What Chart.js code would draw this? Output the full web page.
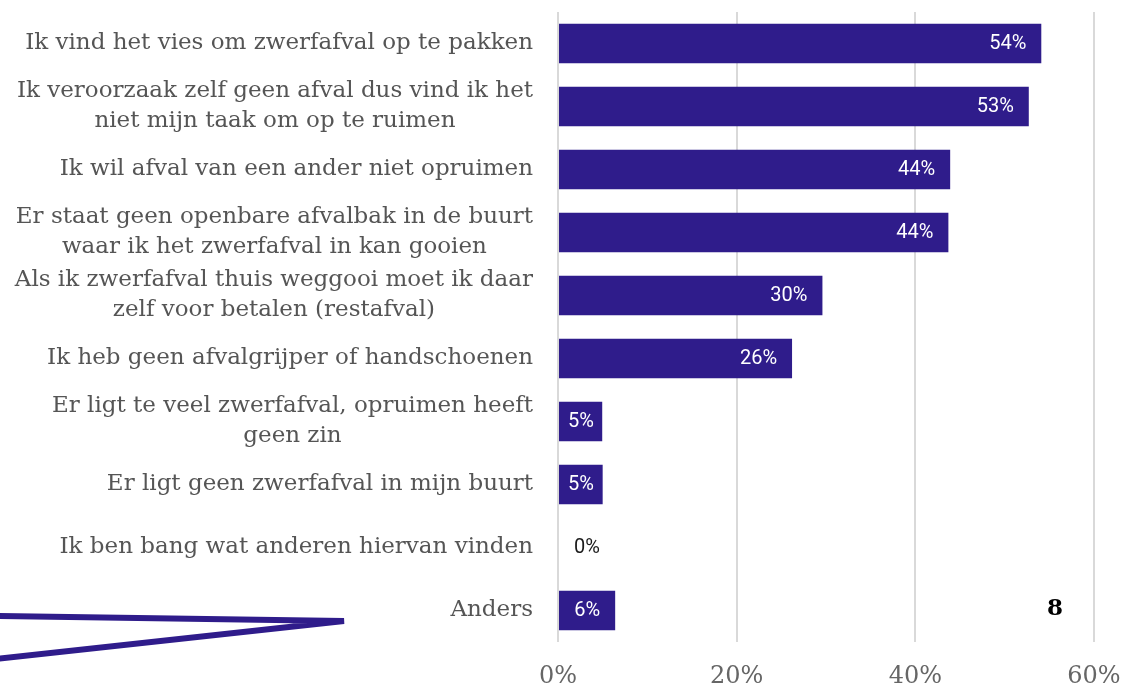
<!DOCTYPE html>
<html>
<head>
<meta charset="utf-8">
<script src="https://cdn.jsdelivr.net/npm/chart.js@4"></script>
<style>
  html, body { margin: 0; padding: 0; background: #fff; }
  #wrap { width: 1125px; height: 684px; position: relative; }
</style>
</head>
<body>
<div id="wrap"><canvas id="chart"></canvas></div>
<script>
const categories = [
  ['Ik vind het vies om zwerfafval op te pakken'],
  ['Ik veroorzaak zelf geen afval dus vind ik het', 'niet mijn taak om op te ruimen'],
  ['Ik wil afval van een ander niet opruimen'],
  ['Er staat geen openbare afvalbak in de buurt', 'waar ik het zwerfafval in kan gooien'],
  ['Als ik zwerfafval thuis weggooi moet ik daar', 'zelf voor betalen (restafval)'],
  ['Ik heb geen afvalgrijper of handschoenen'],
  ['Er ligt te veel zwerfafval, opruimen heeft', 'geen zin'],
  ['Er ligt geen zwerfafval in mijn buurt'],
  ['Ik ben bang wat anderen hiervan vinden'],
  ['Anders']
];
const values = [54.1, 52.7, 43.9, 43.7, 29.6, 26.2, 4.95, 5.0, 0, 6.4];
const xTicks = [0, 20, 40, 60];
const pageNumber = '8';

const barColor = '#2f1c8b';
const labelFont = '23px "DejaVu Serif"';

// y-as labels zelf tekenen: regels onderling gecentreerd, blok rechts uitgelijnd
const yLabelPlugin = {
  id: 'yLabels',
  afterDraw(chart) {
    const ctx = chart.ctx;
    const yScale = chart.scales.y;
    const right = chart.chartArea.left - 25;
    ctx.save();
    ctx.font = labelFont;
    ctx.fillStyle = '#555555';
    ctx.textAlign = 'center';
    ctx.textBaseline = 'middle';
    categories.forEach((lines, i) => {
      const y = yScale.getPixelForTick(i);
      const w = Math.max(...lines.map(l => ctx.measureText(l).width));
      const cx = right - w / 2;
      const lh = 30;
      const y0 = y - (lines.length - 1) * lh / 2;
      lines.forEach((l, j) => ctx.fillText(l, cx, y0 + j * lh));
    });
    ctx.restore();
  }
};

// percentages in de balken
const valueLabelPlugin = {
  id: 'valueLabels',
  afterDatasetsDraw(chart) {
    const ctx = chart.ctx;
    const meta = chart.getDatasetMeta(0);
    ctx.save();
    ctx.font = '20px Roboto';
    ctx.textBaseline = 'middle';
    meta.data.forEach((bar, i) => {
      const v = values[i];
      const txt = Math.round(v) + '%';
      const tw = ctx.measureText(txt).width;
      if (v > 0) {
        ctx.fillStyle = '#ffffff';
        ctx.textAlign = 'right';
        const x = Math.max(bar.x - 15, bar.base + 9 + tw);
        ctx.fillText(txt, x, bar.y);
      } else {
        ctx.fillStyle = '#1a1a1a';
        ctx.textAlign = 'left';
        ctx.fillText(txt, bar.base + 16, bar.y);
      }
    });
    ctx.restore();
  }
};

// paginanummer en decoratieve lijn linksonder
const decorPlugin = {
  id: 'decor',
  afterDraw(chart) {
    const ctx = chart.ctx;
    ctx.save();
    ctx.strokeStyle = barColor;
    ctx.lineWidth = 6;
    ctx.lineJoin = 'miter';
    ctx.beginPath();
    ctx.moveTo(-5, 616);
    ctx.lineTo(344, 621);
    ctx.lineTo(-5, 659);
    ctx.stroke();

    ctx.font = 'bold 23px "DejaVu Serif"';
    ctx.fillStyle = '#000';
    ctx.textAlign = 'center';
    ctx.textBaseline = 'middle';
    ctx.fillText(pageNumber, 1055, 609);
    ctx.restore();
  }
};

new Chart(document.getElementById('chart'), {
  type: 'bar',
  data: {
    labels: categories,
    datasets: [{
      data: values,
      backgroundColor: barColor,
      barPercentage: 0.624,
      categoryPercentage: 1.0,
    }],
  },
  options: {
    indexAxis: 'y',
    responsive: true,
    maintainAspectRatio: false,
    animation: false,
    layout: { padding: { top: 12, right: 31, left: 0, bottom: 0 } },
    plugins: {
      legend: { display: false },
      tooltip: { enabled: false },
    },
    scales: {
      x: {
        min: 0,
        max: 60,
        afterBuildTicks: (scale) => {
          scale.ticks = xTicks.map(v => ({ value: v }));
        },
        afterFit: (scale) => {
          scale.height = 42;
          scale.paddingLeft = 0;
          scale.paddingRight = 0;
        },
        grid: { color: '#d9d9d9', lineWidth: 2, drawTicks: false },
        border: { display: false },
        ticks: {
          padding: 20,
          color: '#666666',
          font: { family: 'DejaVu Serif', size: 24 },
          callback: (v) => v + '%',
        },
      },
      y: {
        afterFit: (scale) => { scale.width = 558; },
        grid: { display: false, drawTicks: false },
        border: { display: false },
        ticks: { display: false },
      },
    },
  },
  plugins: [yLabelPlugin, valueLabelPlugin, decorPlugin],
});
</script>
</body>
</html>
